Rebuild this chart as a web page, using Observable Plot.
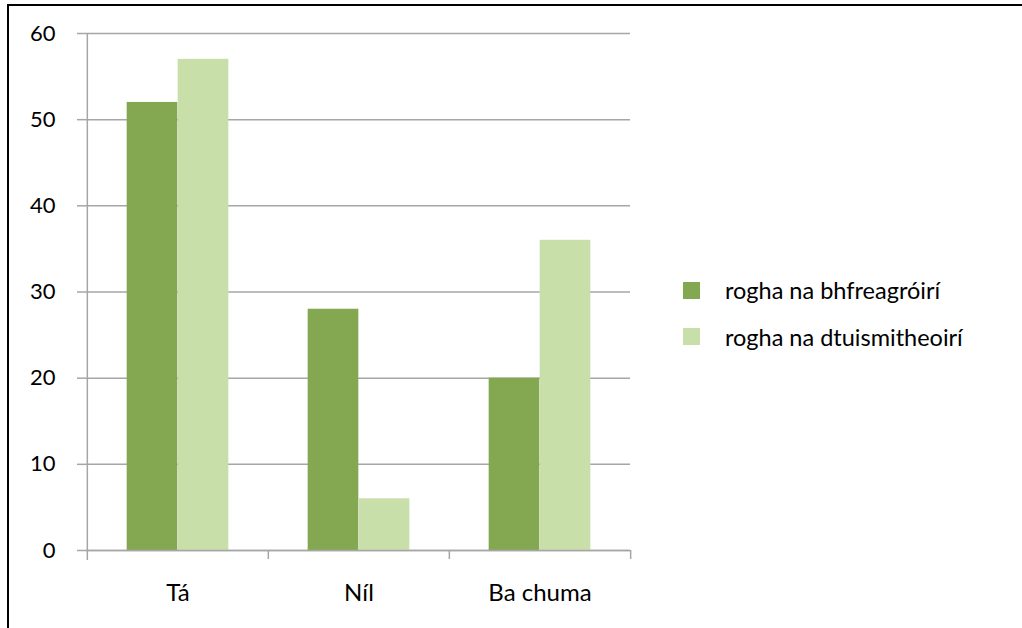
<!DOCTYPE html>
<html>
<head>
<meta charset="utf-8">
<script src="https://cdn.jsdelivr.net/npm/d3@7"></script>
<script src="https://cdn.jsdelivr.net/npm/@observablehq/plot@0.6"></script>
<style>
  html, body { margin: 0; padding: 0; background: #fff; }
  #wrap { position: relative; width: 1022px; height: 628px; overflow: hidden; font-family: Lato, sans-serif; }
  #border { position: absolute; left: 7px; top: 4px; right: 0; bottom: 0; border-top: 2px solid #000; border-left: 2px solid #000; pointer-events: none; }
  #legend { position: absolute; left: 683px; top: 267px; font-size: 23.5px; color: #000; }
  .item { display: flex; align-items: center; height: 46.5px; }
  .sw { width: 17px; height: 17px; margin-right: 25px; }
</style>
</head>
<body>
<div id="wrap">
  <div id="chart"></div>
  <div id="legend"></div>
  <div id="border"></div>
</div>
<script>
const categories = ["Tá", "Níl", "Ba chuma"];
const seriesNames = ["rogha na bhfreagróirí", "rogha na dtuismitheoirí"];
const respondents = [52, 28, 20];
const parents = [57, 6, 36];
const yTicks = [0, 10, 20, 30, 40, 50, 60];
const colors = ["#84a852", "#c9dfaa"];

const rows = [];
categories.forEach((c, i) => {
  rows.push({cat: c, series: seriesNames[0], value: respondents[i]});
  rows.push({cat: c, series: seriesNames[1], value: parents[i]});
});

const W = 1022, H = 628;
const mL = 86, mR = 392, mT = 33, mB = 78;
const band = (W - mL - mR) / categories.length;
const barW = 51;
const half = band / 2;
const gridColor = "#a6a6a6";

const chart = Plot.plot({
  width: W,
  height: H,
  marginLeft: mL,
  marginRight: mR,
  marginTop: mT,
  marginBottom: mB,
  style: {fontFamily: "Lato, sans-serif", fontSize: "22px", color: "#000", background: "transparent"},
  x: {domain: categories, padding: 0, label: null},
  y: {domain: [0, 60], label: null},
  marks: [
    Plot.gridY(yTicks, {stroke: gridColor, strokeOpacity: 1, strokeWidth: 1.5}),
    Plot.barY(rows.filter(d => d.series === seriesNames[0]), {
      x: "cat", y: "value", fill: colors[0],
      insetLeft: half - barW, insetRight: half
    }),
    Plot.barY(rows.filter(d => d.series === seriesNames[1]), {
      x: "cat", y: "value", fill: colors[1],
      insetLeft: half, insetRight: half - barW
    }),
    Plot.ruleY([0], {stroke: gridColor, strokeWidth: 1.5}),
    Plot.ruleX([categories[0]], {x: d => d, dx: -half, stroke: gridColor, strokeWidth: 1.5, insetBottom: -10}),
    Plot.ruleX(categories.slice(1), {x: d => d, dx: -half, y1: 0, y2: 0, stroke: gridColor, strokeWidth: 1.5, insetBottom: -9}),
    Plot.ruleX([categories[categories.length - 1]], {x: d => d, dx: half, y1: 0, y2: 0, stroke: gridColor, strokeWidth: 1.5, insetBottom: -9}),
    Plot.axisY(yTicks, {tickSize: 9, tickPadding: 22, stroke: gridColor, strokeWidth: 1.5, fontSize: 22, fill: "#000"}),
    Plot.axisX({tickSize: 0, tickPadding: 33, fontSize: 24, fill: "#000"})
  ]
});
document.getElementById("chart").appendChild(chart);

const legend = document.getElementById("legend");
seriesNames.forEach((name, i) => {
  const item = document.createElement("div");
  item.className = "item";
  const sw = document.createElement("div");
  sw.className = "sw";
  sw.style.background = colors[i];
  const label = document.createElement("span");
  label.textContent = name;
  item.appendChild(sw);
  item.appendChild(label);
  legend.appendChild(item);
});
</script>
</body>
</html>
